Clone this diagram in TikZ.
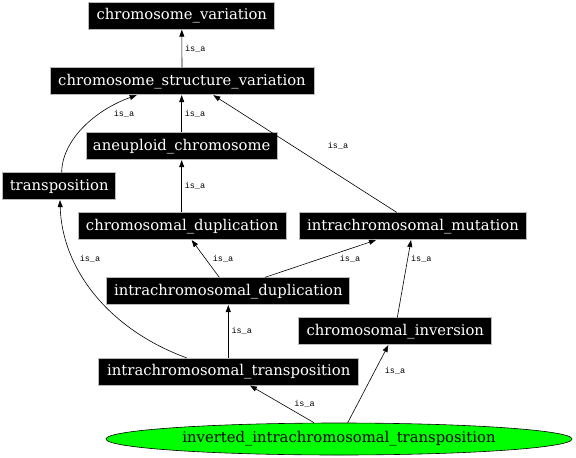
\documentclass[tikz,border=0pt]{standalone}
\usepackage{fontspec}
\usetikzlibrary{arrows.meta,shapes.geometric}
\newfontfamily\boxfont{DejaVu Serif}
\newfontfamily\lblfont{Liberation Mono}
\definecolor{nodegreen}{HTML}{00FF00}
\tikzset{
  termbox/.style={fill=black, draw=gray!55, line width=0.7pt, text=white,
    font=\boxfont\fontsize{14.8}{17}\selectfont, inner sep=0pt,
    minimum height=27pt},
  leafell/.style={ellipse, fill=nodegreen, draw=black, line width=0.6pt,
    font=\boxfont\fontsize{14.8}{17}\selectfont, inner sep=0pt,
    minimum width=466pt, minimum height=32pt},
  isa/.style={draw=black, line width=0.6pt, -{Triangle[length=7pt,width=5pt]}},
  lbl/.style={font=\lblfont\fontsize{8.5}{10}\selectfont, inner sep=0pt}
}
\begin{document}
\begin{tikzpicture}[x=1pt,y=-1pt]
\useasboundingbox (0,0) rectangle (576,458);
\fill[white] (0,0) rectangle (576,458);

\node[termbox, minimum width=186pt] (cv) at (181.8,15.8) {chromosome\_variation};
\node[termbox, minimum width=264pt] (csv) at (182,81.3) {chromosome\_structure\_variation};
\node[termbox, minimum width=191pt] (aneu) at (181.7,146.3) {aneuploid\_chromosome};
\node[termbox, minimum width=113pt] (transp) at (59.2,186.3) {transposition};
\node[termbox, minimum width=208pt] (chromdup) at (182.2,226.2) {chromosomal\_duplication};
\node[termbox, minimum width=227pt] (intramut) at (413,226.2) {intrachromosomal\_mutation};
\node[termbox, minimum width=243pt] (intradup) at (228.3,291.2) {intrachromosomal\_duplication};
\node[termbox, minimum width=193pt] (chrominv) at (395.3,331.3) {chromosomal\_inversion};
\node[termbox, minimum width=260pt] (intratransp) at (228.8,371.7) {intrachromosomal\_transposition};
\node[leafell] (iit) at (339,439) {inverted\_intrachromosomal\_transposition};

% edges
\draw[isa] (csv.north) -- (cv.south);
\draw[isa] (aneu.north) -- (aneu.north |- csv.south);
\draw[isa] ([xshift=2.5pt]transp.north) .. controls (62,140) and (95,110) .. ([xshift=-45.3pt]csv.south);
\draw[isa] ([xshift=-16.3pt]intramut.north) -- ([xshift=31.3pt]csv.south);
\draw[isa] (chromdup.north -| aneu.south) -- (aneu.south);
\draw[isa] ([xshift=-9pt]intradup.north) -- ([xshift=9.5pt]chromdup.south);
\draw[isa] ([xshift=36.7pt]intradup.north) -- ([xshift=-37pt]intramut.south);
\draw[isa] ([xshift=2pt]chrominv.north) -- ([xshift=-2pt]intramut.south);
\draw[isa] ([xshift=-42.1pt]intratransp.north) .. controls (110,330) and (62,270) .. ([xshift=0.8pt]transp.south);
\draw[isa] (intratransp.north -| intradup.south) -- (intradup.south);
\draw[isa] ([xshift=-25pt]iit.north) -- ([xshift=21.2pt]intratransp.south);
\draw[isa] ([xshift=8.7pt]iit.north) -- ([xshift=-7pt]chrominv.south);

% labels
\node[lbl] (l1) at (195.3,49) {is\_a};
\node[lbl] (l2) at (195,114) {is\_a};
\node[lbl] (l3) at (124,114) {is\_a};
\node[lbl] (l4) at (195,186) {is\_a};
\node[lbl] (l5) at (338,146) {is\_a};
\node[lbl] (l6) at (223,259) {is\_a};
\node[lbl] (l7) at (350,259) {is\_a};
\node[lbl] (l8) at (421.3,259) {is\_a};
\node[lbl] (l9) at (90,259) {is\_a};
\node[lbl] (l10) at (241.7,331) {is\_a};
\node[lbl] (l11) at (304.5,404) {is\_a};
\node[lbl] (l12) at (395,370.7) {is\_a};
\end{tikzpicture}
\end{document}
